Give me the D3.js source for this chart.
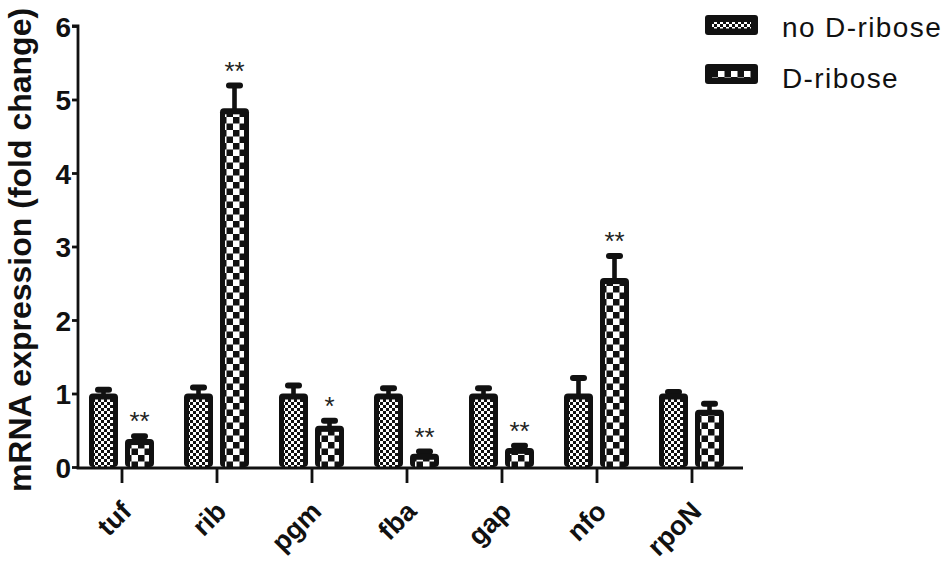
<!DOCTYPE html>
<html><head><meta charset="utf-8">
<script src="https://cdn.jsdelivr.net/npm/d3@7"></script>
<style>body{margin:0;background:#fff}svg{display:block}text{font-family:"Liberation Sans",Arial,sans-serif}</style>
</head><body>
<svg id="c" width="951" height="568"></svg>
<script>
const categories = ["tuf","rib","pgm","fba","gap","nfo","rpoN"];
const series = ["no D-ribose","D-ribose"];
const noRibose = [1.0, 1.0, 1.0, 1.0, 1.0, 1.0, 1.0];
const noRiboseErr = [0.05, 0.08, 0.11, 0.07, 0.07, 0.21, 0.02];
const dRibose = [0.38, 4.88, 0.56, 0.18, 0.26, 2.57, 0.78];
const dRiboseErr = [0.04, 0.31, 0.07, 0.03, 0.03, 0.30, 0.08];
const significance = ["**","**","*","**","**","**",""];
const yTicks = [0,1,2,3,4,5,6];

const svg = d3.select("#c");
const y = d3.scaleLinear().domain([0,6]).range([467,26]);
const x0 = d3.scaleBand().domain(categories).range([74.5,739.5]).paddingInner(0);
const x1 = d3.scaleBand().domain(series).range([-33,32]).paddingInner(7/36);

const defs = svg.append("defs");
const p1 = defs.append("pattern").attr("id","pSmall").attr("patternUnits","userSpaceOnUse").attr("width",6).attr("height",6);
p1.append("rect").attr("width",6).attr("height",6).attr("fill","#fff");
p1.append("rect").attr("x",0).attr("y",0).attr("width",3).attr("height",3).attr("fill","#111");
p1.append("rect").attr("x",3).attr("y",3).attr("width",3).attr("height",3).attr("fill","#111");
const p2 = defs.append("pattern").attr("id","pLarge").attr("patternUnits","userSpaceOnUse").attr("width",13).attr("height",13);
p2.append("rect").attr("width",13).attr("height",13).attr("fill","#fff");
p2.append("rect").attr("x",0).attr("y",0).attr("width",6.5).attr("height",6.5).attr("fill","#111");
p2.append("rect").attr("x",6.5).attr("y",6.5).attr("width",6.5).attr("height",6.5).attr("fill","#111");
const fills = {"no D-ribose":"url(#pSmall)","D-ribose":"url(#pLarge)"};

const rows = [];
categories.forEach((c,i)=>{
  rows.push({cat:c, s:series[0], v:noRibose[i], e:noRiboseErr[i], sig:""});
  rows.push({cat:c, s:series[1], v:dRibose[i], e:dRiboseErr[i], sig:significance[i]});
});

const g = svg.append("g");
const bars = g.selectAll("g.bar").data(rows).join("g").attr("class","bar")
  .attr("transform", d=>`translate(${x0(d.cat)+x0.bandwidth()/2 + x1(d.s)},0)`);
const bw = x1.bandwidth();
// error bars
bars.append("rect").attr("x", bw/2-2.3).attr("width",4.6)
  .attr("y", d=>y(d.v+d.e)).attr("height", d=>y(d.v)-y(d.v+d.e)+4).attr("fill","#111");
bars.append("rect").attr("x", bw/2-8.5).attr("width",17).attr("height",6).attr("rx",3)
  .attr("y", d=>y(d.v+d.e)-3).attr("fill","#111");
// bar outer
bars.append("rect").attr("x",0).attr("width",bw).attr("rx",4)
  .attr("y", d=>y(d.v)).attr("height", d=>y(0)-y(d.v)).attr("fill","#111");
bars.append("rect").attr("x",5).attr("width",bw-10)
  .attr("y", d=>y(d.v)+6).attr("height", d=>Math.max(0,y(0)-y(d.v)-6)).attr("fill", d=>fills[d.s]);
// significance
bars.filter(d=>d.sig).append("text").attr("x",bw/2).attr("y", d=>y(d.v+d.e)-6)
  .attr("text-anchor","middle").attr("font-size",26).attr("fill","#222").text(d=>d.sig);

// y axis
const ya = svg.append("g").attr("transform","translate(78,0)")
  .call(d3.axisLeft(y).tickValues(yTicks).tickSize(6).tickPadding(1).tickFormat(d3.format("d")));
ya.select(".domain").attr("stroke","#111").attr("stroke-width",2.8).attr("d",`M-6,${y(6)}H0V${y(0)+1.4}`);
ya.selectAll(".tick line").attr("stroke","#111").attr("stroke-width",2.8);
ya.selectAll(".tick text").attr("font-size",28).attr("font-weight","bold").attr("fill","#111")
  .attr("font-family","Liberation Sans, Arial, sans-serif").attr("dy","0.36em");

// x axis
const xa = svg.append("g").attr("transform",`translate(0,${y(0)+1})`)
  .call(d3.axisBottom(x0).tickSize(15).tickFormat(""));
xa.select(".domain").attr("stroke","#111").attr("stroke-width",2.8).attr("d","M76.6,0H743");
xa.selectAll(".tick line").attr("stroke","#111").attr("stroke-width",2.8);
svg.append("g").selectAll("text").data(categories).join("text")
  .attr("transform", d=>`translate(${x0(d)+x0.bandwidth()/2+11},${y(0)+46}) rotate(-45)`)
  .attr("text-anchor","end").attr("font-size",27).attr("font-weight","bold").attr("fill","#111").text(d=>d);

// y label
svg.append("text").attr("transform","translate(31,250) rotate(-90)").attr("text-anchor","middle")
  .attr("font-size",32).attr("font-weight","bold").attr("fill","#111").text("mRNA expression (fold change)");

// legend
const lg = svg.append("g").selectAll("g").data(series).join("g")
  .attr("transform",(d,i)=>`translate(705,${15+i*49})`);
lg.append("rect").attr("width",53).attr("height",20).attr("rx",3).attr("fill","#111");
lg.append("rect").attr("x",7).attr("y",7).attr("width",39).attr("height",6.5).attr("fill",d=>fills[d]);
lg.append("text").attr("x",77).attr("y",(d,i)=>i===0?22:24).attr("font-size",28).attr("letter-spacing",1.4)
  .attr("fill","#111").text(d=>d);
</script>
</body></html>
